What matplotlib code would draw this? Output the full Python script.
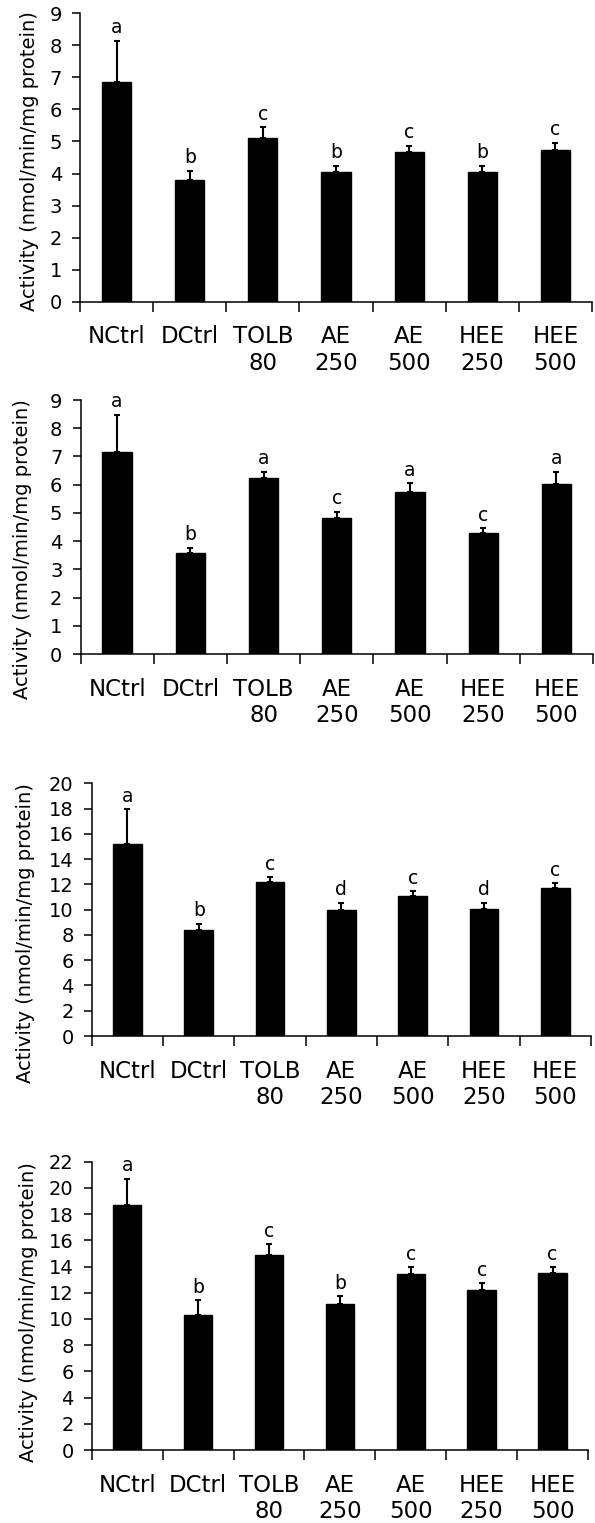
import matplotlib
matplotlib.use("Agg")
import matplotlib.pyplot as plt
import numpy as np

plt.rcParams['font.family'] = ['DejaVu Sans']

categories = ['NCtrl', 'DCtrl', 'TOLB\n80', 'AE\n250', 'AE\n500', 'HEE\n250', 'HEE\n500']

p1_mean = [6.87, 3.80, 5.10, 4.06, 4.67, 4.05, 4.73]
p1_err = [1.28, 0.29, 0.34, 0.18, 0.20, 0.19, 0.23]
p1_letters = ['a', 'b', 'c', 'b', 'c', 'b', 'c']

p2_mean = [7.15, 3.57, 6.22, 4.81, 5.75, 4.28, 6.01]
p2_err = [1.32, 0.20, 0.24, 0.23, 0.30, 0.17, 0.45]
p2_letters = ['a', 'b', 'a', 'c', 'a', 'c', 'a']

p3_mean = [15.2, 8.42, 12.18, 10.0, 11.05, 10.08, 11.74]
p3_err = [2.76, 0.47, 0.40, 0.55, 0.42, 0.47, 0.36]
p3_letters = ['a', 'b', 'c', 'd', 'c', 'd', 'c']

p4_mean = [18.68, 10.28, 14.9, 11.17, 13.4, 12.18, 13.5]
p4_err = [2.01, 1.14, 0.80, 0.56, 0.56, 0.56, 0.46]
p4_letters = ['a', 'b', 'c', 'b', 'c', 'c', 'c']

ylabel = 'Activity (nmol/min/mg protein)'

W, H = 595, 1523
fig = plt.figure(figsize=(W / 100, H / 100), dpi=100)

panels = [
    # means, errs, letters, ymax, ystep, (left, right, top, bottom px), (label right px, label center px)
    (p1_mean, p1_err, p1_letters, 9, 1, (80, 592, 13.3, 301.7), (39, 161)),
    (p2_mean, p2_err, p2_letters, 9, 1, (80.5, 593, 400, 654), (32, 549)),
    (p3_mean, p3_err, p3_letters, 20, 2, (91.7, 591, 783.3, 1036), (35, 933)),
    (p4_mean, p4_err, p4_letters, 22, 2, (91.7, 588, 1161.7, 1450), (38, 1312)),
]

for means, errs, letters, ymax, ystep, box, lab in panels:
    l, r, t, b = box
    ax = fig.add_axes([l / W, 1 - b / H, (r - l) / W, (b - t) / H])
    x = np.arange(len(categories))
    ax.bar(x, means, width=0.4, color='black', edgecolor='black', zorder=2)
    ax.errorbar(x, means, yerr=[np.zeros(len(means)), errs], fmt='none',
                ecolor='black', elinewidth=1.5, capsize=2.2, capthick=1.5, zorder=3)
    for xi, m, e, s in zip(x, means, errs, letters):
        ax.annotate(s, (xi, m + e), xytext=(0, 2.5), textcoords='offset points',
                    ha='center', va='bottom', fontsize=13.5)
    ax.set_xlim(-0.5, len(categories) - 0.5)
    ax.set_ylim(0, ymax)
    ax.set_yticks(np.arange(0, ymax + 0.001, ystep))
    ax.set_xticks(np.arange(-0.5, len(categories), 1.0))
    ax.set_xticklabels([])
    ax.set_xticks(x, minor=True)
    ax.set_xticklabels(categories, minor=True, fontsize=16.5, linespacing=1.2)
    ax.tick_params(axis='x', which='major', direction='out', length=7.2, width=1.1)
    ax.tick_params(axis='x', which='minor', length=0, pad=17)
    ax.tick_params(axis='y', direction='out', length=6, width=1.1, labelsize=14, pad=7)
    for sp in ['top', 'right']:
        ax.spines[sp].set_visible(False)
    for sp in ['left', 'bottom']:
        ax.spines[sp].set_linewidth(1.1)
    ax.set_ylabel(ylabel, fontsize=14)
    ax.yaxis.set_label_coords(lab[0] / W, 1 - lab[1] / H, transform=fig.transFigure)

fig.savefig('out.png', dpi=100)
